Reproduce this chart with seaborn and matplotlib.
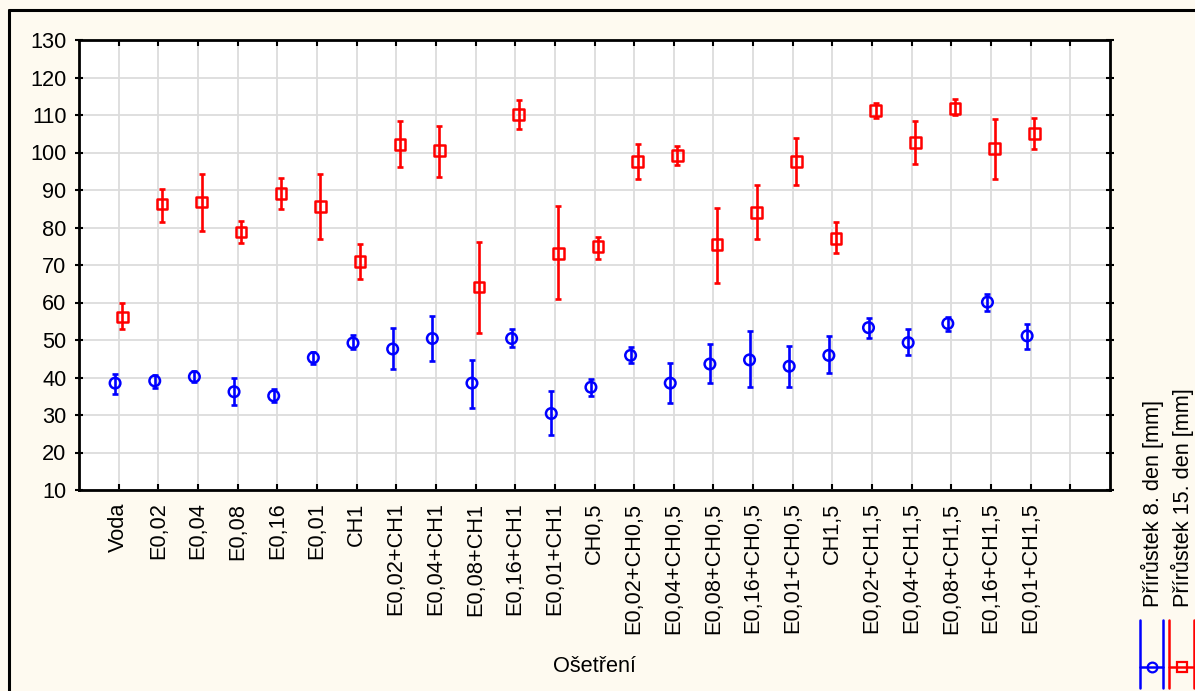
import matplotlib
matplotlib.use("Agg")
import matplotlib.pyplot as plt
from matplotlib.lines import Line2D
import numpy as np
import pandas as pd
import seaborn as sns

categories = ["Voda", "E0,02", "E0,04", "E0,08", "E0,16", "E0,01", "CH1",
              "E0,02+CH1", "E0,04+CH1", "E0,08+CH1", "E0,16+CH1", "E0,01+CH1",
              "CH0,5", "E0,02+CH0,5", "E0,04+CH0,5", "E0,08+CH0,5", "E0,16+CH0,5",
              "E0,01+CH0,5", "CH1,5", "E0,02+CH1,5", "E0,04+CH1,5", "E0,08+CH1,5",
              "E0,16+CH1,5", "E0,01+CH1,5"]

day8_mean = [38.5, 39.1, 40.2, 36.2, 35.1, 45.3, 49.2, 47.6, 50.4, 38.5, 50.4, 30.4,
             37.4, 45.9, 38.5, 43.6, 44.7, 43.0, 45.9, 53.3, 49.3, 54.4, 60.1, 51.1]
day8_hi = [40.9, 40.8, 41.8, 39.9, 36.9, 46.7, 51.4, 53.2, 56.5, 44.6, 52.9, 36.5,
           39.7, 48.2, 43.9, 48.9, 52.5, 48.4, 51.1, 56.0, 52.9, 56.2, 62.3, 54.4]
day8_lo = [35.6, 37.2, 38.9, 32.7, 33.5, 43.7, 47.5, 42.4, 44.3, 32.0, 48.2, 24.6,
           35.1, 43.9, 33.3, 38.6, 37.5, 37.5, 41.1, 50.6, 46.0, 52.5, 57.7, 47.5]

day15_mean = [56.1, 86.3, 86.8, 78.8, 89.0, 85.6, 70.9, 102.2, 100.5, 64.1, 110.2, 73.1,
              74.9, 97.6, 99.2, 75.4, 84.0, 97.6, 77.1, 111.2, 102.7, 111.8, 101.0, 105.0]
day15_hi = [60.0, 90.3, 94.4, 81.7, 93.1, 94.3, 75.6, 108.5, 107.1, 76.1, 114.0, 85.8,
            77.6, 102.3, 101.7, 85.3, 91.4, 104.0, 81.6, 113.1, 108.3, 114.3, 108.9, 109.3]
day15_lo = [52.9, 81.5, 79.1, 75.9, 84.9, 76.9, 66.4, 96.1, 93.4, 52.0, 106.3, 60.9,
            71.6, 93.0, 96.7, 65.3, 77.0, 91.4, 73.1, 109.3, 96.9, 109.9, 92.9, 100.9]

series_names = ["Přírůstek 8. den [mm]", "Přírůstek 15. den [mm]"]
y_ticks = list(range(10, 131, 10))
x_label = "Ošetření"

BLUE = "#0000FF"
RED = "#FF0000"
BG = "#FEFAF0"
FS = 15.7

sns.set_theme(style="white")
plt.rcParams["font.family"] = ["Liberation Sans", "DejaVu Sans"]
plt.rcParams["text.color"] = "black"
plt.rcParams["axes.labelcolor"] = "black"
plt.rcParams["xtick.color"] = "black"
plt.rcParams["ytick.color"] = "black"

W, H = 1195, 691
fig = plt.figure(figsize=(W / 100, H / 100), dpi=100, facecolor=BG)
ax = fig.add_axes([79 / W, 1 - 490 / H, (1110 - 79) / W, (490 - 40) / H])
ax.set_facecolor("white")

pos = np.arange(1, len(categories) + 1)
off = 0.09
df = pd.DataFrame({
    "x": np.concatenate([pos - off, pos + off]),
    "y": day8_mean + day15_mean,
    "lo": day8_lo + day15_lo,
    "hi": day8_hi + day15_hi,
    "serie": [series_names[0]] * len(pos) + [series_names[1]] * len(pos),
})

colors = {series_names[0]: BLUE, series_names[1]: RED}
markers = {series_names[0]: "o", series_names[1]: "s"}

for name, g in df.groupby("serie", sort=False):
    ax.errorbar(g["x"], g["y"], yerr=[g["y"] - g["lo"], g["hi"] - g["y"]],
                fmt="none", ecolor=colors[name], elinewidth=1.9, capsize=2.0,
                capthick=1.9, zorder=3)

sns.scatterplot(data=df, x="x", y="y", hue="serie", style="serie",
                palette=colors, markers=markers, s=58,
                linewidth=1.8, legend=False, ax=ax, zorder=4)
for coll in ax.collections:
    fc = coll.get_facecolors()
    if len(fc):
        coll.set_edgecolors(fc)
        coll.set_facecolors("none")

ax.set_xlim(0, 26)
ax.set_ylim(10, 130)
ax.set_yticks(y_ticks)
ax.set_xticks(list(pos) + [25])
ax.set_xticklabels(categories + [""], rotation=90, fontsize=FS)
ax.set_yticklabels([str(t) for t in y_ticks], fontsize=FS)
ax.set_xlabel(x_label, fontsize=FS, labelpad=16)
ax.set_ylabel("")
ax.grid(True, color="#DCDCDC", linewidth=1.3)
ax.set_axisbelow(True)
for s in ax.spines.values():
    s.set_visible(True)
    s.set_color("black")
    s.set_linewidth(2.0)
ax.tick_params(axis="x", direction="in", length=4, width=1.5, pad=9,
               top=True, bottom=True, colors="black")
ax.tick_params(axis="y", direction="inout", length=6, width=1.5, pad=6,
               left=True, right=True, colors="black")


def fx(px):
    return px / W


def fy(py):
    return 1 - py / H


# figure frame (top and left edges visible)
fig.add_artist(Line2D([fx(9), fx(W + 5)], [fy(10), fy(10)], color="black", lw=2.2))
fig.add_artist(Line2D([fx(9), fx(9)], [fy(10), fy(H + 5)], color="black", lw=2.2))

# rotated legend
leg = [(1152, 1140, 1163, BLUE, "o", series_names[0]),
       (1182, 1169, 1194, RED, "s", series_names[1])]
for cx, x0, x1, col, mk, name in leg:
    fig.text(fx(cx), fy(607), name, rotation=90, ha="center", va="bottom",
             fontsize=FS, color="black")
    fig.add_artist(Line2D([fx(x0), fx(x1)], [fy(667), fy(667)], color=col, lw=1.8))
    fig.add_artist(Line2D([fx(x0), fx(x0)], [fy(620), fy(688)], color=col, lw=1.8))
    fig.add_artist(Line2D([fx(x1), fx(x1)], [fy(620), fy(688)], color=col, lw=1.8))
    fig.add_artist(Line2D([fx(cx)], [fy(667)], color=col, marker=mk, ms=7,
                          mfc="none", mec=col, mew=1.6, lw=0))

fig.savefig("out.png", dpi=100, facecolor=BG)
